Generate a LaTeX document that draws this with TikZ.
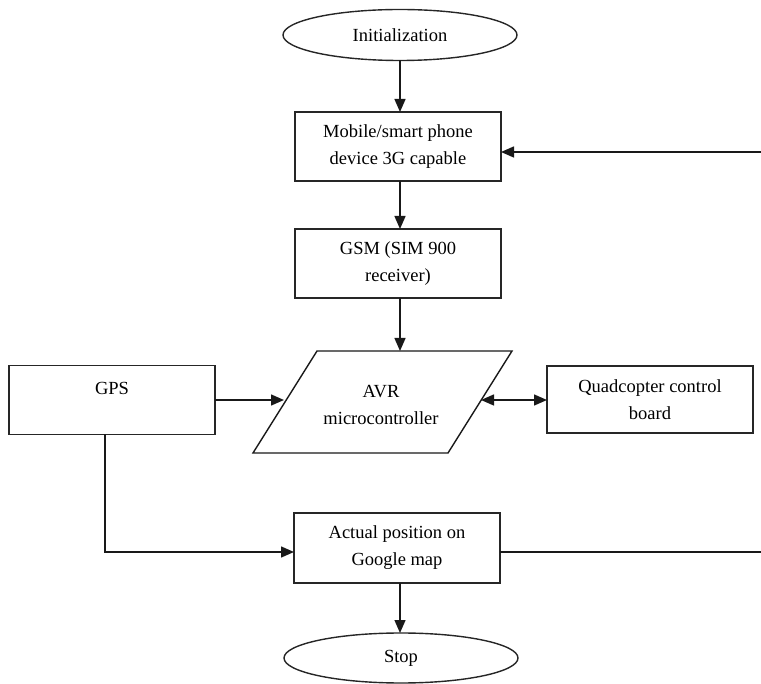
\documentclass[tikz,border=0pt]{standalone}
\usepackage{fontspec}
\setmainfont{Liberation Serif}
\usetikzlibrary{shapes.geometric,arrows.meta}
\begin{document}
\begin{tikzpicture}[x=1pt,y=-1pt,
  every node/.style={font=\fontsize{18.5}{27}\selectfont, text=black},
  box/.style={draw=black!85, line width=1.4pt, rectangle, minimum width=206pt, minimum height=69pt, inner sep=0pt, outer sep=0pt, align=center},
  term/.style={draw=black!85, line width=1.4pt, ellipse, minimum width=234pt, minimum height=51pt, inner sep=0pt, outer sep=0pt},
  conn/.style={draw=black!90, line width=1.4pt},
  arr/.style={conn, -{Triangle[length=13pt,width=11pt]}},
  darr/.style={conn, {Triangle[length=13pt,width=11pt]}-{Triangle[length=13pt,width=11pt]}}]
\useasboundingbox (0,0) rectangle (761,684);
% nodes
\node[term] (init) at (400,35) {Initialization};
\node[box] (mobile) at (398,146.5) {Mobile/smart phone\\device 3G capable};
\node[box] (gsm) at (398,263.5) {GSM (SIM 900\\receiver)};
% parallelogram
\coordinate (p1) at (317,351);
\coordinate (p2) at (512,351);
\coordinate (p3) at (448,453);
\coordinate (p4) at (253,453);
\draw[conn, line join=miter] (p1) -- (p2) -- (p3) -- (p4) -- cycle;
\node[align=center] (avr) at (381,405) {AVR\\microcontroller};
\coordinate (avrtop) at (400,351);
\coordinate (avrleft) at (284,400);
\coordinate (avrright) at (481,400);
\node[box] (gps) at (112,400) {};
\node (gpstxt) at (112,388) {GPS};
\node[box, minimum height=67pt] (quad) at (650,399.5) {Quadcopter control\\board};
\node[box, minimum height=70pt] (actual) at (397,548) {Actual position on\\Google map};
\node[term, minimum height=50pt] (stop) at (401,658) {Stop};
% connectors
\coordinate (rtop) at (761,152);
\coordinate (rbot) at (761,552);
\coordinate (gpsdown) at (105,552);
\draw[arr] (init.south -| 400,0) -- (mobile.north -| 400,0);
\draw[arr] (mobile.south -| 400,0) -- (gsm.north -| 400,0);
\draw[arr] (gsm.south -| 400,0) -- (avrtop);
\draw[arr] (rtop) -- (mobile.east |- rtop);
\draw[arr] (gps.east |- avrleft) -- (avrleft);
\draw[darr] (avrright) -- (quad.west |- avrright);
\draw[arr] (gps.south -| gpsdown) -- (gpsdown) -- (actual.west |- gpsdown);
\draw[conn] (actual.east |- rbot) -- (rbot);
\draw[arr] (actual.south -| 400,0) -- (stop.north -| 400,0);
\end{tikzpicture}
\end{document}
